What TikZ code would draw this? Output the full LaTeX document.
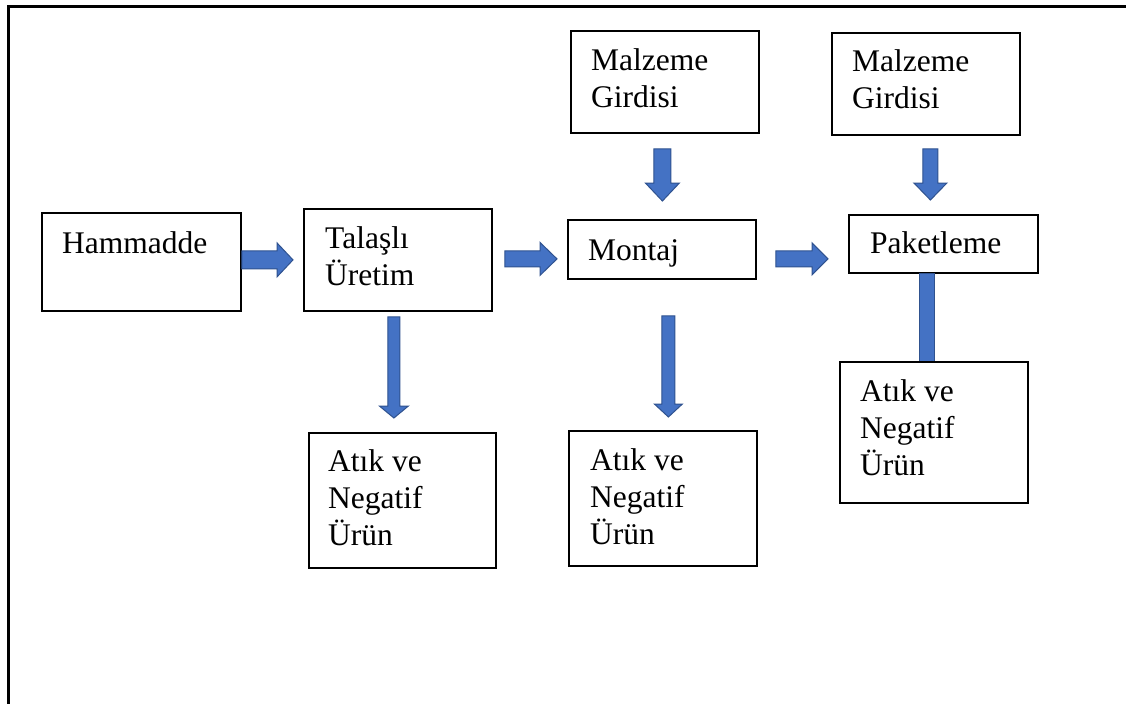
\documentclass[tikz,border=0pt]{standalone}
\usepackage{fontspec}
\setmainfont{Liberation Serif}
\usetikzlibrary{calc}
\definecolor{arrfill}{HTML}{4472C4}
\definecolor{arredge}{HTML}{2F528F}
\begin{document}
\begin{tikzpicture}[x=1pt,y=-1pt,
  box/.style={draw=black, line width=1.8pt, rectangle, inner sep=0pt, anchor=north west},
  txt/.style={font=\fontsize{31.5}{37}\selectfont, inner sep=0pt, align=left, anchor=base west},
  blk/.style={fill=arrfill, draw=arredge, line width=1pt, line join=miter},
  rblock/.style n args={3}{to path={let \p1=(\tikztostart), \p2=(\tikztotarget) in
     (\x1,{\y1+#1pt}) -- ({\x2-#3pt},{\y1+#1pt}) -- ({\x2-#3pt},{\y1+#2pt}) -- (\x2,\y1)
     -- ({\x2-#3pt},{\y1-#2pt}) -- ({\x2-#3pt},{\y1-#1pt}) -- (\x1,{\y1-#1pt}) -- cycle}},
  dblock/.style n args={3}{to path={let \p1=(\tikztostart), \p2=(\tikztotarget) in
     ({\x1-#1pt},\y1) -- ({\x1-#1pt},{\y2+#3pt}) -- ({\x1-#2pt},{\y2+#3pt}) -- (\x1,\y2)
     -- ({\x1+#2pt},{\y2+#3pt}) -- ({\x1+#1pt},{\y2+#3pt}) -- ({\x1+#1pt},\y1) -- cycle}},
  bar/.style={to path={let \p1=(\tikztostart), \p2=(\tikztotarget) in
     ({\x1-#1pt},\y1) rectangle ({\x1+#1pt},\y2)}},
  frame/.style={draw=black, line width=3pt}
]
\useasboundingbox (0,0) rectangle (1126,704);
\fill[white] (0,0) rectangle (1126,704);
\draw[frame] (1126,6) -- (8,6) -- (8,704);

% boxes
\node[box, minimum width=199, minimum height=98] (ham) at (41,212) {};
\node[box, minimum width=188, minimum height=102] (tal) at (303,208) {};
\node[box, minimum width=188, minimum height=59] (mon) at (567,219) {};
\node[box, minimum width=188, minimum height=102] (mz1) at (570,30) {};
\node[box, minimum width=188, minimum height=102] (mz2) at (831,32) {};
\node[box, minimum width=189, minimum height=58] (pak) at (848,214) {};

% texts (base anchor = baseline of last line)
\node[txt] (hamt) at ($(ham.north west)+(21,41)$) {Hammadde};
\node[txt] (talt) at ($(tal.north west)+(22,77)$) {Talaşlı\\Üretim};
\node[txt] (mont) at ($(mon.north west)+(21,41)$) {Montaj};
\node[txt] (mz1t) at ($(mz1.north west)+(21,77)$) {Malzeme\\Girdisi};
\node[txt] (mz2t) at ($(mz2.north west)+(21,76)$) {Malzeme\\Girdisi};
\node[txt] (pakt) at ($(pak.north west)+(22,39)$) {Paketleme};

% bar from Paketleme down (drawn behind waste box)
\path[blk] ($(pak.south)+(-16,0)$) to[bar=7.5] ($(pak.south)+(-16,89)$);

\node[box, minimum width=187, minimum height=135] (at1) at (308,432) {};
\node[box, minimum width=188, minimum height=135] (at2) at (568,430) {};
\node[box, minimum width=188, minimum height=141] (at3) at (839,361) {};
\node[txt] (at1t) at ($(at1.north west)+(20,113)$) {Atık ve\\Negatif\\Ürün};
\node[txt] (at2t) at ($(at2.north west)+(22,114)$) {Atık ve\\Negatif\\Ürün};
\node[txt] (at3t) at ($(at3.north west)+(21,114)$) {Atık ve\\Negatif\\Ürün};

% horizontal block arrows
\path[blk] ($(ham.east)+(0,-2)$) to[rblock={9}{17}{16}] ($(tal.west)+(-10,0)$);
\path[blk] ($(tal.east)+(12,-1)$) to[rblock={8}{16.5}{17}] ($(mon.west)+(-10,9.5)$);
\path[blk] ($(mon.east)+(19,9.5)$) to[rblock={8}{16}{16}] ($(pak.west)+(-20,15)$);

% vertical block arrows
\path[blk] ($(mz1.south)+(-2.5,15)$) to[dblock={8.5}{17}{18}] ($(mon.north)+(0.5,-18)$);
\path[blk] ($(mz2.south)+(4.5,13)$) to[dblock={7.5}{16.5}{17}] ($(pak.north)+(-13,-14)$);
\path[blk] ($(tal.south)+(-4,5)$) to[dblock={6}{14.5}{12}] ($(at1.north)+(-8.5,-14)$);
\path[blk] ($(mon.south)+(6.5,36)$) to[dblock={6.5}{14}{13}] ($(at2.north)+(5.5,-13)$);
\end{tikzpicture}
\end{document}
